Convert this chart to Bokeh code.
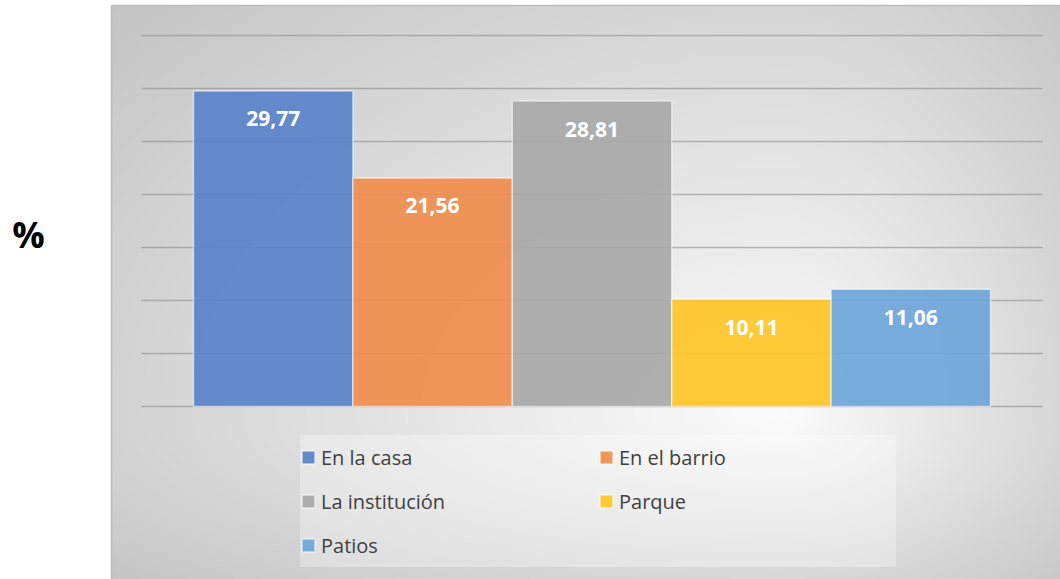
import numpy as np
from bokeh.plotting import figure
from bokeh.models import ColumnDataSource
from bokeh.core.properties import value
from bokeh.embed import file_html
from bokeh.resources import INLINE

# ---- data ----
categories = ["En la casa", "En el barrio", "La institución", "Parque", "Patios"]
values = [29.77, 21.56, 28.81, 10.11, 11.06]
colors = ["#5B83CA", "#EF8E4E", "#A9A9A9", "#FFC629", "#6EA6DA"]
y_ticks = [0, 5, 10, 15, 20, 25, 30, 35]
y_label = "%"

# scale: 159.4 px per category, 10.6 px per percentage point
XS, XE = -1.7108, 4.939
YS, YE = -16.32, 38.30
PX0, PX1 = -1.0144, 4.939      # gray panel extent
PY0, PY1 = -16.32, 37.83

p = figure(width=1060, height=579, x_range=(XS, XE), y_range=(YS, YE),
           output_backend="svg", toolbar_location=None,
           min_border_left=0, min_border_right=0, min_border_top=0, min_border_bottom=0)
p.xaxis.visible = False
p.yaxis.visible = False
p.xgrid.visible = False
p.ygrid.visible = False
p.border_fill_color = "white"
p.background_fill_color = "white"
p.outline_line_color = None

# background gradient of panel (decoration)
W, H = 475, 287
fx = 111 + (np.arange(W) + 0.5) * 949 / W
fy = 579 - (np.arange(H) + 0.5) * 574 / H
cx, cy = 780, 415
dx = np.where(fx < cx, (fx - cx) / 900, (fx - cx) / 420)
dy = np.where(fy < cy, (fy - cy) / 600, (fy - cy) / 250)
t = np.sqrt(dx[None, :] ** 2 + dy[:, None] ** 2)
B = np.clip(252 - 55 * t, 185, 255).astype(np.uint8)
img = np.empty((H, W), dtype=np.uint32)
view = img.view(dtype=np.uint8).reshape((H, W, 4))
view[..., 0] = B
view[..., 1] = B
view[..., 2] = B
view[..., 3] = 255
p.image_rgba(image=[img], x=PX0, y=PY0, dw=PX1 - PX0, dh=PY1 - PY0)
p.quad(left=PX0, right=PX1 + 1, bottom=PY0 - 1, top=PY1, fill_color=None,
       line_color="#bdbdbd", line_width=1.5)

# gridlines
gsrc = ColumnDataSource(dict(y=y_ticks))
p.segment(x0=-0.826, x1=4.826, y0="y", y1="y", source=gsrc,
          line_color="#8c8c8c", line_alpha=0.6, line_width=1.6)

# bars
src = ColumnDataSource(dict(
    x=list(range(len(categories))),
    top=values,
    cat=categories,
    color=colors,
    label=[f"{v:.2f}".replace(".", ",") for v in values],
))
p.vbar(x="x", top="top", width=1, bottom=0, source=src, fill_color="color",
       fill_alpha=0.93, line_color="white", line_alpha=0.55, line_width=1.5,
       legend_field="cat")

p.text(x="x", y="top", text="label", source=src, text_font=value("Open Sans"),
       text_font_style="bold", text_font_size="21px", text_color="white",
       text_align="center", text_baseline="middle", y_offset=28)

# "%" axis title
p.text(x=[-1.535], y=[16.2], text=[y_label], text_font=value("Open Sans"),
       text_font_style="bold", text_font_size="36px", text_color="black",
       text_align="center", text_baseline="middle")

lg = p.legend[0]
lg.orientation = "horizontal"
lg.ncols = 2
lg.location = (300, 12)
lg.spacing = 0
lg.padding = 0
lg.margin = 0
lg.glyph_width = 16
lg.glyph_height = 16
lg.label_standoff = 5
lg.label_width = 277
lg.label_height = 44
lg.label_text_font = "Open Sans"
lg.label_text_font_size = "20px"
lg.label_text_color = "#404040"
lg.background_fill_color = "white"
lg.background_fill_alpha = 0.3
lg.border_line_alpha = 0

open("out.html", "w").write(file_html(p, INLINE))
